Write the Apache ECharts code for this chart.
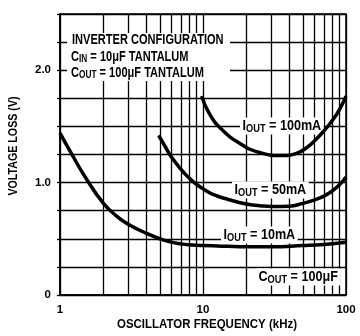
<!DOCTYPE html>
<html><head><meta charset="utf-8">
<script src="https://cdn.jsdelivr.net/npm/echarts@6/dist/echarts.min.js"></script>
<style>html,body{margin:0;padding:0;background:#fff}#c{width:360px;height:336px}</style>
</head><body><div id="c"></div>
<script>
// ---- data ----
const freq10 = [1, 1.2, 1.5, 2, 2.5, 3, 4, 5, 6, 7, 8, 10, 15, 20, 30, 50, 70, 100];
const loss10 = [1.44, 1.26, 1.05, 0.82, 0.70, 0.63, 0.55, 0.50, 0.47, 0.455, 0.447, 0.44, 0.433, 0.43, 0.43, 0.44, 0.45, 0.47];
const freq50 = [4.9, 5.5, 6, 7, 8, 9, 10, 12, 15, 20, 25, 30, 40, 50, 60, 70, 80, 90, 100];
const loss50 = [1.42, 1.31, 1.23, 1.12, 1.04, 0.985, 0.945, 0.89, 0.85, 0.81, 0.795, 0.787, 0.79, 0.815, 0.845, 0.88, 0.925, 0.98, 1.05];
const freq100 = [9.8, 11, 13.6, 18.6, 24.6, 35.9, 45, 53, 60, 69, 80, 90, 100];
const loss100 = [1.77, 1.62, 1.47, 1.34, 1.27, 1.24, 1.26, 1.31, 1.37, 1.45, 1.55, 1.65, 1.77];
const xGridFreqs = [2, 3, 4, 5, 6, 7, 8, 9, 20, 30, 40, 50, 60, 70, 80, 90];
const yLabelMap = { '0': '0', '1': '1.0', '2': '2.0' };
const xLabelMap = { '1': '1', '10': '10', '100': '100' };

const FONT = "'Liberation Sans',Arial,sans-serif";
const pair = (xs, ys) => xs.map((x, i) => [x, ys[i]]);

const richBlock = {
  m: { fontFamily: FONT, fontWeight: 'bold', fontSize: 14, lineHeight: 16, color: '#000' },
  s: { fontFamily: FONT, fontWeight: 'bold', fontSize: 10.5, lineHeight: 9, verticalAlign: 'bottom', color: '#000' }
};
const richLabel = {
  m: { fontFamily: FONT, fontWeight: 'bold', fontSize: 15, lineHeight: 17, color: '#000' },
  s: { fontFamily: FONT, fontWeight: 'bold', fontSize: 11, lineHeight: 9, verticalAlign: 'bottom', color: '#000' }
};

function blockLine(x, y, text) {
  return { type: 'text', z: 10, x: x, y: y, scaleX: 0.79,
    style: { text: text, rich: richBlock, align: 'left', verticalAlign: 'middle' } };
}
function label(x, y, text) {
  return {
    type: 'text', z: 10, x: x, y: y, scaleX: 0.84,
    style: {
      text: text, rich: richLabel,
      backgroundColor: '#fff', padding: [0, 3, 0, 3],
      align: 'left', verticalAlign: 'middle'
    }
  };
}

const curve = (data) => ({
  type: 'line', data: data, z: 20, smooth: 0.5, showSymbol: false, symbol: 'none',
  lineStyle: { color: '#000', width: 3.5 }, silent: true, animation: false
});

const chart = echarts.init(document.getElementById('c'), null, { renderer: 'canvas' });
chart.setOption({
  animation: false,
  backgroundColor: '#fff',
  grid: { left: 60, right: 14, top: 14, bottom: 41, show: true, borderColor: '#000', borderWidth: 1.5 },
  xAxis: {
    type: 'log', logBase: 10, min: 1, max: 100,
    axisLine: { show: true, lineStyle: { color: '#000', width: 1.6 } },
    axisTick: { show: false },
    splitLine: { show: true, lineStyle: { color: '#000', width: 1.3 } },
    axisLabel: {
      margin: 9, color: '#000', fontFamily: FONT, fontWeight: 'bold', fontSize: 11.5,
      formatter: v => xLabelMap[String(Math.round(v))] || ''
    }
  },
  yAxis: {
    type: 'value', min: 0, max: 2.5, interval: 0.25,
    axisLine: { show: true, lineStyle: { color: '#000', width: 1.6 } },
    axisTick: { show: true, length: 3, lineStyle: { color: '#000', width: 1.3 } },
    splitLine: { show: true, lineStyle: { color: '#000', width: 1.3 } },
    axisLabel: {
      margin: 9, color: '#000', fontFamily: FONT, fontWeight: 'bold', fontSize: 11.5,
      formatter: v => yLabelMap[String(v)] || ''
    }
  },
  series: [
    {
      type: 'line', data: [], z: 5, silent: true, animation: false,
      markLine: {
        silent: true, symbol: ['none', 'none'], animation: false,
        label: { show: false },
        lineStyle: { color: '#000', width: 1.3, type: 'solid' },
        emphasis: { disabled: true },
        data: xGridFreqs.map(f => ({ xAxis: f }))
      }
    },
    curve(pair(freq10, loss10)),
    curve(pair(freq50, loss50)),
    curve(pair(freq100, loss100))
  ],
  graphic: [
    { type: 'rect', z: 10, shape: { x: 67, y: 33, width: 163, height: 48 }, style: { fill: '#fff' } },
    blockLine(72, 40, '{m|INVERTER CONFIGURATION}'),
    blockLine(71, 57, '{m|C}{s|IN}{m| = 10μF TANTALUM}'),
    blockLine(71, 73, '{m|C}{s|OUT}{m| = 100μF TANTALUM}'),
    label(240, 126, '{m|I}{s|OUT}{m| = 100mA}'),
    label(232, 190, '{m|I}{s|OUT}{m| = 50mA}'),
    label(221, 235, '{m|I}{s|OUT}{m| = 10mA}'),
    label(256, 277, '{m|C}{s|OUT}{m| = 100μF}'),
    {
      type: 'text', z: 10, x: 13, y: 146, rotation: Math.PI / 2, scaleX: 0.82,
      style: { text: 'VOLTAGE LOSS (V)', fontFamily: FONT, fontWeight: 'bold', fontSize: 13, fill: '#000', align: 'center', verticalAlign: 'middle' }
    },
    {
      type: 'text', z: 10, x: 207, y: 324, scaleX: 0.85,
      style: { text: 'OSCILLATOR FREQUENCY (kHz)', fontFamily: FONT, fontWeight: 'bold', fontSize: 13.5, fill: '#000', align: 'center', verticalAlign: 'middle' }
    }
  ]
});
</script>
</body></html>
